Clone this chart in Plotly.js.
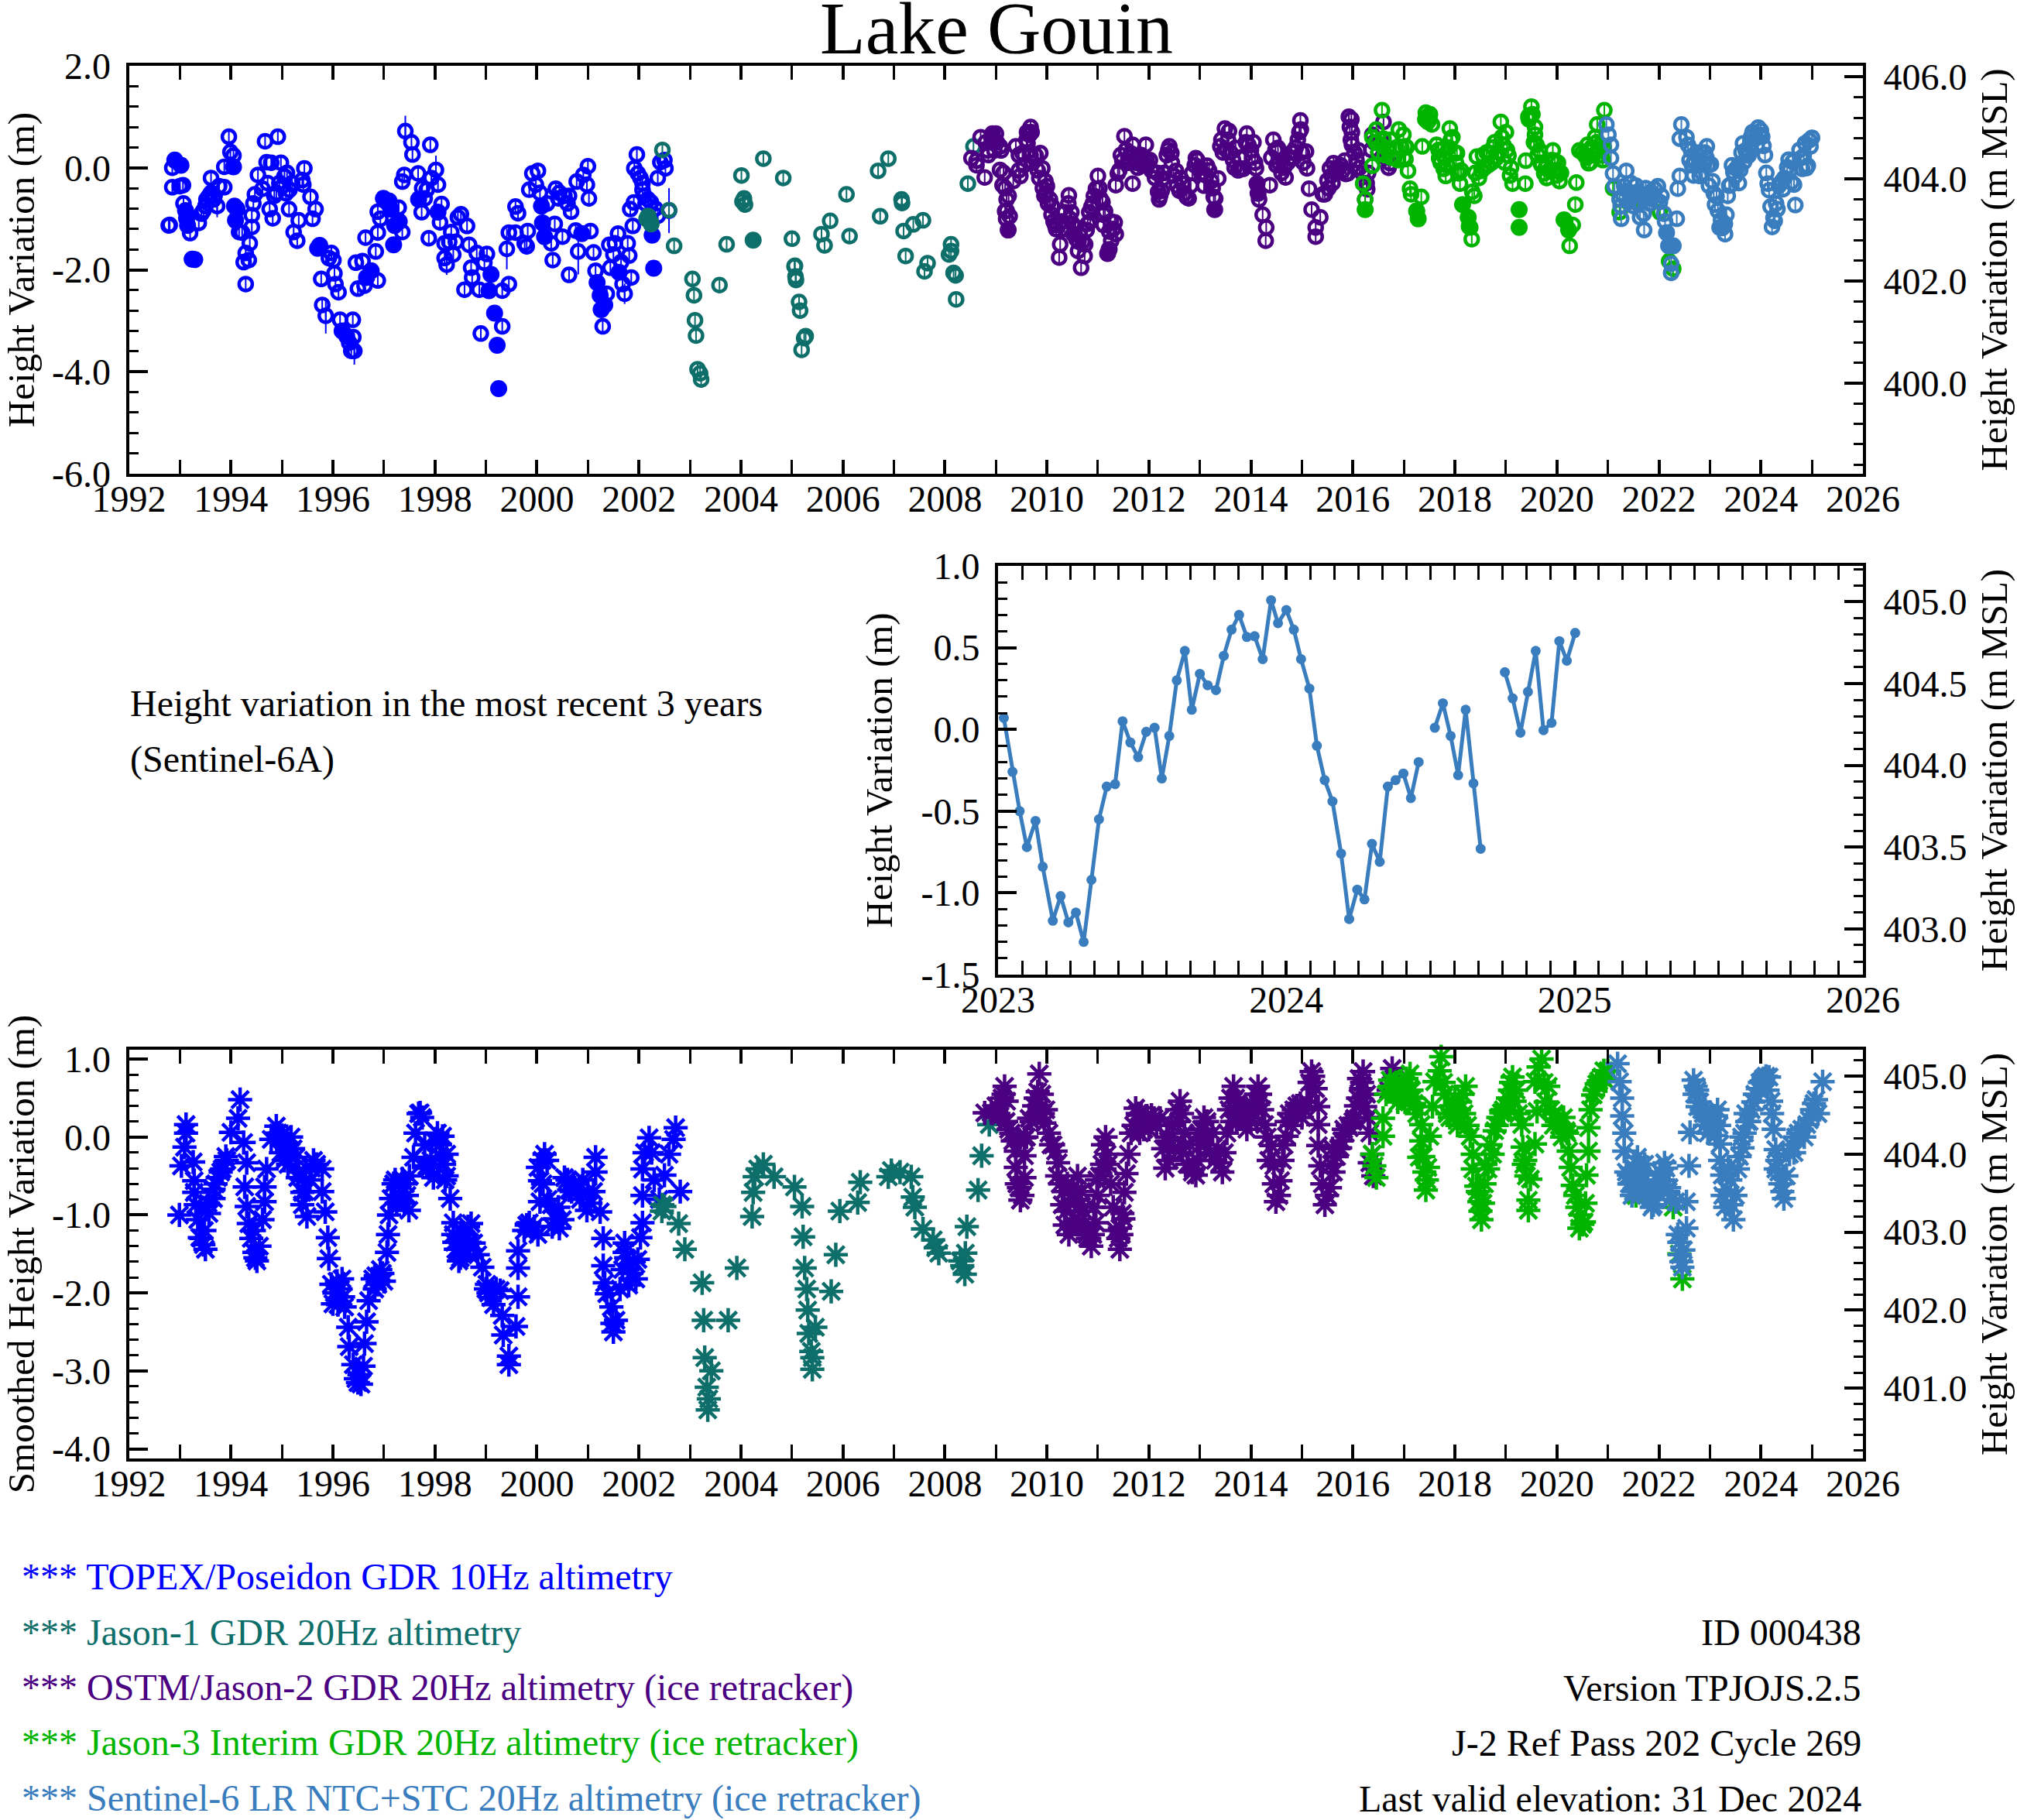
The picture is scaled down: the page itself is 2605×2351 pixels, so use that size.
<!DOCTYPE html>
<html>
<head>
<meta charset="utf-8">
<script src="https://cdn.plot.ly/plotly-3.0.1.min.js"></script>
<style>body{margin:0;background:#fff}</style>
</head>
<body>
<div id="chart" style="width:2605px;height:2351px"></div>
<script>
var blue = 'rgb(0,0,255)', teal = 'rgb(13,110,106)', purple = 'rgb(75,0,130)', green = 'rgb(0,180,0)', steel = 'rgb(58,125,190)';

// top panel: 10 day heights, open circles
var topexX = [1992.78,1992.80,1992.85,1992.85,1993.0,1993.06,1993.07,1993.2,1993.37,1993.46,1993.5,1993.57,1993.61,1993.61,1993.66,1993.73,1993.77,1993.87,1993.87,1993.96,1993.99,1994.05,1994.16,1994.22,1994.29,1994.25,1994.35,1994.29,1994.37,1994.41,1994.41,1994.44,1994.47,1994.53,1994.62,1994.67,1994.70,1994.76,1994.82,1994.79,1994.92,1994.89,1994.98,1995.05,1995.14,1995.1,1995.15,1995.23,1995.3,1995.33,1995.4,1995.44,1995.42,1995.56,1995.6,1995.66,1995.79,1995.77,1995.86,1995.97,1995.92,1996.01,1996.03,1996.05,1996.11,1996.14,1996.32,1996.36,1996.39,1996.4,1996.42,1996.49,1996.45,1996.58,1996.62,1996.64,1996.84,1996.88,1996.88,1996.88,1996.93,1997.29,1997.36,1997.36,1997.4,1997.42,1997.54,1997.56,1997.67,1997.74,1997.88,1997.91,1997.84,1997.93,1998.02,1998.06,1998.13,1998.1,1998.19,1998.19,1998.23,1998.32,1998.36,1998.41,1998.45,1998.51,1998.58,1998.63,1998.67,1998.71,1998.73,1998.82,1998.87,1998.9,1999.02,1998.97,1999.32,1999.32,1999.45,1999.41,1999.45,1999.58,1999.63,1999.58,1999.76,1999.8,1999.82,1999.85,1999.91,2000.02,1999.98,2000.06,2000.28,2000.31,2000.35,2000.37,2000.44,2000.5,2000.54,2000.63,2000.63,2000.67,2000.76,2000.78,2000.81,2000.91,2000.98,2001.0,2001.02,2001.05,2001.11,2001.15,2001.29,2001.37,2001.42,2001.44,2001.53,2001.59,2001.68,2001.72,2001.78,2001.81,2001.85,2001.83,2001.88,2001.9,2001.91,2001.96,2001.98,2002.03,2002.07,2002.07,2002.11,2002.24,2002.37,2002.37,2002.42,2002.5,2002.52,2002.59];
var topexY = [-1.13,-1.12,0.0,-0.38,-0.36,-0.34,-0.70,-1.28,-1.08,-0.84,-0.75,-0.55,-0.49,-0.2,-0.62,-0.75,-0.36,-0.38,0.02,0.61,0.31,0.24,-1.26,-1.27,-1.67,-1.85,-1.81,-2.28,-1.48,-1.16,-0.93,-0.70,-0.52,-0.14,-0.41,0.52,0.11,-0.81,-0.99,0.1,0.61,-0.49,0.10,-0.17,-0.81,-0.1,-0.43,-1.26,-1.43,-1.03,-0.24,-0.01,-0.33,-0.57,-1.0,-0.81,-2.69,-2.18,-2.9,-1.67,-1.77,-1.81,-2.07,-2.28,-2.44,-2.98,-3.43,-3.59,-2.98,-3.32,-3.59,-2.37,-1.86,-1.83,-2.31,-1.37,-1.64,-2.21,-1.27,-0.86,-1.0,-0.78,-1.26,-0.27,-0.14,0.72,0.5,0.26,-0.11,-0.87,-1.38,0.45,-0.43,-0.2,-0.04,-0.33,-0.71,-1.07,-1.48,-1.77,-1.9,-1.26,-1.7,-1.45,-0.97,-0.91,-2.39,-1.14,-1.51,-1.96,-2.15,-1.67,-2.39,-3.25,-1.69,-1.86,-3.11,-2.41,-2.28,-1.59,-1.27,-0.76,-0.89,-1.27,-1.48,-1.54,-1.24,-0.43,-0.11,-0.06,-0.33,-0.49,-1.48,-1.81,-1.1,-0.41,-0.49,-1.35,-0.55,-0.55,-2.1,-0.86,-1.23,-0.27,-1.64,-0.14,-0.33,0.03,-0.6,-1.24,-1.66,-2.02,-3.11,-2.47,-1.51,-1.96,-1.48,-1.29,-2.28,-2.47,-1.48,-1.72,-2.15,-0.81,-1.14,-0.68,-0.01,0.26,-0.11,-0.2,-0.3,-0.43,-0.55,-0.68,-0.94,-0.2,0.11,0.15,-0.01,-0.84];
var jason1X = [2002.15,2002.22,2002.46,2002.59,2002.69,2003.05,2003.08,2003.1,2003.12,2003.15,2003.2,2003.22,2003.58,2003.72,2004.01,2004.44,2004.83,2004.06,2004.08,2004.03,2005.0,2005.05,2005.07,2005.06,2005.08,2005.14,2005.16,2005.24,2005.19,2005.27,2005.58,2005.64,2005.75,2006.13,2006.07,2006.69,2006.89,2006.73,2007.15,2007.16,2007.19,2007.38,2007.57,2007.23,2007.66,2007.6,2008.12,2008.12,2008.08,2008.17,2008.21,2008.22,2008.45,2008.56];
var jason1Y = [-1.0,-1.05,0.35,-0.83,-1.53,-2.18,-2.5,-2.99,-3.29,-3.95,-4.03,-4.15,-2.3,-1.5,-0.15,0.18,-0.2,-0.6,-0.72,-0.66,-1.39,-1.93,-2.13,-1.92,-2.2,-2.63,-2.8,-3.34,-3.57,-3.3,-1.3,-1.52,-1.04,-1.34,-0.52,-0.06,0.18,-0.95,-0.62,-0.69,-1.24,-1.11,-1.03,-1.73,-1.87,-2.03,-1.5,-1.63,-1.7,-2.06,-2.11,-2.58,-0.31,0.42];
var ostmX = [2008.52,2008.62,2008.78,2009.0,2009.08,2009.08,2009.13,2009.21,2009.21,2008.85,2009.34,2009.39,2009.48,2009.52,2009.61,2009.68,2009.65,2009.78,2009.87,2009.91,2009.97,2010.0,2010.06,2010.09,2010.16,2010.26,2010.24,2010.35,2010.43,2010.48,2010.56,2010.61,2010.65,2010.67,2010.74,2010.78,2010.83,2010.87,2010.96,2011.0,2011.09,2011.11,2011.11,2011.26,2011.33,2011.35,2011.39,2011.52,2011.48,2011.68,2011.68,2011.94,2011.6,2011.75,2011.85,2011.96,2012.18,2012.2,2012.27,2012.4,2012.44,2012.53,2012.66,2012.74,2012.92,2013.14,2013.22,2013.27,2013.36,2013.4,2013.49,2013.57,2013.7,2013.79,2013.92,2014.05,2014.1,2014.16,2014.23,2014.3,2014.29,2014.37,2014.44,2014.53,2014.68,2014.84,2014.97,2014.98,2015.08,2015.1,2015.14,2015.19,2015.27,2015.27,2015.36,2015.41,2015.45,2015.55,2015.62,2015.72,2015.84,2015.9,2015.92,2015.97,2015.98,2015.98,2016.11,2016.19,2016.24,2016.28,2016.38,2016.6,2016.73];
var ostmY = [0.19,0.05,-0.19,0.67,0.42,-0.04,-0.34,-0.62,-0.84,0.25,-0.26,0.42,-0.16,0.29,0.7,0.8,0.65,0.24,0.29,-0.01,-0.26,-0.36,-0.62,-0.92,-1.12,-1.5,-1.76,-0.87,-0.54,-0.87,-1.17,-1.63,-1.33,-1.96,-1.73,-1.22,-0.87,-0.77,-0.41,-0.16,-0.67,-0.92,-1.12,-1.43,-1.07,-0.34,-0.11,0.62,0.14,0.45,-0.31,0.45,0.2,0.1,0.25,0.04,-0.47,-0.62,-0.21,0.42,0.29,-0.06,-0.31,-0.57,0.19,0.04,-0.26,-0.57,-0.21,0.42,0.77,0.72,0.39,-0.01,0.67,0.5,-0.01,-0.62,-0.92,-1.17,-1.43,-0.34,0.55,0.39,-0.19,0.19,0.93,0.75,0.32,-0.01,-0.41,-0.82,-1.17,-1.35,-0.97,-0.52,-0.52,-0.01,0.09,-0.01,0.14,-0.11,1.0,0.95,0.7,0.45,0.34,-0.11,-0.62,-0.42,0.65,0.9,0.09];
var jason3X = [2016.24,2016.2,2016.38,2016.38,2016.57,2016.46,2016.6,2016.73,2016.9,2016.99,2016.81,2017.03,2017.03,2017.08,2017.12,2017.14,2017.34,2017.25,2017.36,2017.43,2017.51,2017.47,2017.64,2017.9,2017.95,2017.69,2017.82,2018.04,2018.08,2018.1,2018.3,2018.33,2018.34,2018.43,2018.52,2018.69,2018.78,2018.9,2019.0,2019.05,2019.13,2019.38,2019.39,2019.46,2019.5,2019.44,2019.57,2019.57,2019.66,2019.75,2019.92,2019.96,2020.05,2020.03,2020.25,2020.31,2020.36,2020.38,2020.44,2020.62,2020.75,2020.79,2020.93,2020.88,2020.6,2020.55,2020.7,2021.1,2021.23,2021.23,2021.55,2022.02,2022.2,2022.28];
var jason3Y = [-0.62,-0.31,0.04,0.6,1.13,0.75,0.57,0.55,0.75,0.65,0.19,0.42,0.17,-0.06,-0.41,-0.52,-0.57,-0.84,0.42,1.08,1.05,0.9,0.45,0.77,0.6,0.19,-0.16,0.29,-0.11,-0.31,-1.17,-1.4,-0.47,0.22,-0.06,0.29,0.5,0.9,0.7,0.24,-0.31,-0.31,0.14,1.03,1.2,1.0,0.65,0.8,0.34,-0.11,0.34,0.14,-0.26,-0.06,-1.53,-1.12,-0.72,-0.29,0.34,0.09,0.6,0.85,1.13,0.24,0.45,0.25,0.35,-0.4,-0.62,-0.87,-0.6,-0.87,-1.83,-1.98];
var s6EarlyX = [2020.97,2021.01,2021.06,2021.06,2021.1,2021.13,2021.23,2021.26,2021.36,2021.32,2021.41,2021.58,2021.63,2021.71,2021.54,2021.84,2021.98,2022.02,2022.24,2022.24,2022.35,2022.37,2022.41,2022.44,2022.41,2022.54,2022.63,2022.76,2022.94,2022.89,2022.8];
var s6EarlyY = [0.85,0.65,0.45,0.19,-0.11,-0.36,-0.62,-1.0,-0.06,-0.36,-0.67,-0.47,-0.97,-1.22,-0.67,-0.47,-0.36,-0.67,-1.88,-2.06,-1.0,-0.41,-0.16,0.85,0.57,0.6,0.34,0.24,0.42,0.09,-0.16];

// more readings from the crowded parts of the top panel, [year, height]
var topexMore = [[1993.42,-0.9],[1993.52,-0.62],[1993.68,-0.55],[1994.72,-0.3],[1994.85,-0.55],[1994.95,-0.3],[1995.02,-0.35],[1995.08,-0.5],[1995.2,-0.3],[1997.75,-0.4],[1997.8,-0.6],[1998.28,-1.45],[2000.2,-0.7],[2000.42,-0.6],[2000.6,-0.7],[2001.5,-1.7],[2001.65,-1.85],[2002.13,-0.7],[2002.18,-0.62],[2002.32,-0.8]];
var ostmMore = [[2008.7,0.6],[2008.8,0.5],[2008.93,0.67],[2009.02,0.5],[2009.1,0.34],[2008.97,0.34],[2008.84,0.34],[2008.62,0.14],[2009.15,-0.1],[2009.18,-0.4],[2009.25,-0.55],[2009.18,-0.85],[2009.27,-0.95],[2009.2,-1.0],[2009.45,0.25],[2009.6,0.55],[2009.66,0.65],[2009.7,0.7],[2009.62,0.48],[2009.55,0.05],[2009.45,-0.05],[2009.68,0.25],[2009.72,0.1],[2009.82,-0.05],[2009.85,-0.2],[2009.92,-0.4],[2009.95,-0.55],[2009.98,-0.5],[2010.02,-0.7],[2010.1,-0.75],[2010.13,-1.05],[2010.18,-1.2],[2010.3,-1.05],[2010.35,-1.2],[2010.42,-0.7],[2010.45,-1.0],[2010.5,-1.1],[2010.52,-1.3],[2010.58,-1.4],[2010.62,-1.45],[2010.7,-1.45],[2010.75,-1.5],[2010.8,-1.1],[2010.85,-1.05],[2010.9,-0.7],[2010.92,-0.55],[2011.03,-0.4],[2011.05,-0.6],[2011.14,-0.85],[2011.22,-1.25],[2011.3,-1.2],[2011.35,-1.3],[2011.25,-1.05],[2011.42,-0.05],[2011.45,0.25],[2011.55,0.35],[2011.6,0.1],[2011.65,0.28],[2011.72,0.15],[2011.78,0.0],[2011.82,0.2],[2011.88,0.05],[2011.95,0.15],[2012.02,0.15],[2012.05,-0.05],[2012.12,-0.2],[2012.16,-0.1],[2012.22,-0.55],[2012.25,-0.45],[2012.3,-0.1],[2012.35,0.25],[2012.38,0.35],[2012.45,0.1],[2012.48,-0.15],[2012.55,-0.35],[2012.6,-0.45],[2012.62,-0.2],[2012.7,-0.5],[2012.78,-0.6],[2012.82,-0.35],[2012.85,-0.1],[2012.9,0.05],[2012.95,0.15],[2013.0,0.0],[2013.02,-0.1],[2013.08,-0.35],[2013.12,-0.15],[2013.18,-0.05],[2013.25,-0.4],[2013.3,-0.6],[2013.42,0.55],[2013.45,0.3],[2013.52,0.35],[2013.55,0.55],[2013.6,0.3],[2013.65,0.15],[2013.68,0.0],[2013.75,-0.05],[2013.78,0.2],[2013.85,-0.02],[2013.9,0.5],[2013.95,0.45],[2014.0,0.35],[2014.02,0.2],[2014.08,0.1],[2014.4,0.2],[2014.48,0.35],[2014.5,0.05],[2014.55,0.1],[2014.6,-0.1],[2014.65,0.0],[2014.72,0.1],[2014.76,0.2],[2014.8,0.3],[2014.88,0.4],[2014.92,0.55],[2014.95,0.7],[2015.0,0.3],[2015.03,0.1],[2015.5,-0.25],[2015.52,-0.4],[2015.58,-0.15],[2015.6,-0.3],[2015.66,-0.1],[2015.7,0.0],[2015.76,0.05],[2015.8,-0.05],[2015.86,-0.12],[2015.94,0.8],[2015.96,0.55],[2016.03,0.3],[2016.07,0.15],[2016.13,0.0],[2016.27,-0.3],[2016.3,-0.1],[2016.36,0.35],[2016.42,0.5],[2016.5,0.3],[2016.55,0.55],[2016.65,0.2],[2016.7,0.0]];
var jason3More = [[2016.45,0.5],[2016.5,0.3],[2016.55,0.45],[2016.62,0.25],[2016.68,0.35],[2016.75,0.2],[2016.85,0.4],[2016.88,0.15],[2016.95,0.4],[2017.0,0.2],[2017.05,0.4],[2017.45,1.0],[2017.55,0.85],[2017.5,0.95],[2017.42,0.95],[2017.68,0.35],[2017.72,0.1],[2017.75,0.35],[2017.78,-0.02],[2017.8,0.2],[2017.85,0.05],[2017.88,0.4],[2017.92,0.55],[2018.0,0.3],[2018.02,0.1],[2018.05,-0.08],[2018.12,-0.05],[2018.38,-0.55],[2018.4,-0.1],[2018.47,-0.2],[2018.55,0.25],[2018.58,0.0],[2018.62,0.3],[2018.65,0.05],[2018.72,0.1],[2018.75,0.4],[2018.82,0.2],[2018.85,0.3],[2018.92,0.6],[2018.95,0.45],[2018.98,0.1],[2019.02,0.35],[2019.08,-0.15],[2019.1,0.0],[2019.45,0.95],[2019.52,1.05],[2019.55,0.5],[2019.6,0.45],[2019.62,0.25],[2019.68,0.1],[2019.7,0.05],[2019.78,0.0],[2019.8,-0.2],[2019.85,-0.05],[2019.9,0.15],[2019.95,-0.05],[2020.0,-0.15],[2020.02,0.1],[2020.08,-0.1],[2020.5,0.3],[2020.58,0.2],[2020.65,0.1],[2020.68,0.4],[2020.72,0.25],[2020.78,0.5],[2020.82,0.35],[2020.86,0.45],[2020.9,0.15],[2020.92,0.4]];
var s6More = [[2021.25,-0.75],[2021.3,-0.55],[2021.38,-0.45],[2021.45,-0.3],[2021.48,-0.55],[2021.5,-0.75],[2021.55,-0.35],[2021.6,-0.7],[2021.66,-0.55],[2021.7,-0.9],[2021.74,-0.4],[2021.78,-0.6],[2021.82,-0.7],[2021.86,-0.55],[2021.92,-0.42],[2021.95,-0.65],[2022.05,-0.55],[2022.1,-0.9],[2022.12,-1.05],[2022.57,0.45],[2022.6,0.15],[2022.65,0.05],[2022.68,-0.15],[2022.7,0.15],[2022.73,0.3],[2022.78,0.05],[2022.82,0.3],[2022.85,-0.1],[2022.9,0.3],[2022.93,0.2],[2022.96,0.05],[2022.98,-0.35]];

// top panel: filled circles
var topexFilledX = [1992.90,1993.02,1993.11,1993.13,1993.15,1993.24,1993.29,1994.05,1994.07,1994.12,1994.09,1995.7,1995.74,1996.18,1996.27,1996.75,1996.66,1996.99,1997.1,1997.14,1997.19,1997.21,1997.3,1997.68,1998.06,1999.1,1999.06,1999.17,1999.22,1999.25,2000.09,2000.11,2000.15,2000.88,2001.18,2001.24,2001.26,2001.33,2001.61,2002.26,2002.29];
var topexFilledY = [0.15,0.05,-0.84,-0.99,-1.13,-1.79,-1.80,0.02,-0.75,-0.81,-1.03,-1.58,-1.52,-3.2,-3.3,-2.02,-2.15,-0.6,-0.65,-0.81,-1.51,-1.13,-1.05,-0.62,-0.87,-2.09,-2.41,-2.85,-3.48,-4.33,-0.75,-1.08,-1.35,-1.29,-2.25,-2.5,-2.78,-2.69,-2.05,-1.32,-1.97];
var jason1FilledX = [2002.18,2002.24,2004.24];
var jason1FilledY = [-0.95,-1.1,-1.42];
var ostmFilledX = [2008.91,2008.95,2009.24,2011.19,2011.22,2013.29,2014.12,2014.14];
var ostmFilledY = [0.6,0.5,-1.22,-1.68,-1.6,-0.82,-0.31,-0.5];
var jason3FilledX = [2016.24,2017.28,2017.25,2018.15,2018.26,2018.28,2019.26,2019.26,2020.14,2020.23];
var jason3FilledY = [-0.82,-1.0,-0.85,-0.72,-0.97,-1.15,-0.82,-1.17,-1.02,-1.22];
var s6FilledX = [2022.15,2022.19,2022.28,2023.29];
var s6FilledY = [-1.27,-1.53,-1.53,-1.1];

// top panel: longer error bars
var whiskerX = [1997.42,1996.42,1995.86,2000.81,1999.41,2002.59,2001.72,1998.23,1998.02,1993.73];
var whiskerY = [0.72,-3.59,-2.9,-1.64,-1.59,-0.84,-2.47,-1.9,-0.04,-0.75];
var whiskerErr = [0.3,0.27,0.35,0.45,0.4,0.44,0.2,0.2,0.28,0.22];

// middle panel: Sentinel-6A, nulls are the gaps in the line
var recentYear = [2023.02,2023.05,2023.075,2023.10,2023.13,2023.155,2023.19,2023.217,2023.244,2023.27,2023.297,2023.324,2023.35,2023.377,2023.406,2023.432,2023.459,2023.486,2023.514,2023.543,2023.568,2023.594,2023.62,2023.648,2023.672,2023.70,2023.727,2023.756,2023.783,2023.81,2023.836,2023.863,2023.89,2023.918,2023.947,2023.971,2024.0,2024.026,2024.051,2024.08,2024.106,2024.133,2024.16,2024.19,2024.218,2024.246,2024.271,2024.297,2024.324,2024.352,2024.379,2024.406,2024.432,2024.459,null,2024.515,2024.543,2024.57,2024.596,2024.622,2024.649,2024.674,null,2024.758,2024.785,2024.812,2024.838,2024.865,2024.892,2024.92,2024.947,2024.973,2025.002];
var recentHeight = [0.07,-0.26,-0.5,-0.72,-0.56,-0.84,-1.17,-1.02,-1.18,-1.12,-1.30,-0.92,-0.55,-0.35,-0.335,0.05,-0.08,-0.17,-0.015,0.01,-0.30,-0.04,0.30,0.48,0.12,0.34,0.27,0.24,0.45,0.61,0.70,0.565,0.57,0.43,0.79,0.65,0.73,0.61,0.43,0.25,-0.10,-0.31,-0.44,-0.76,-1.16,-0.98,-1.04,-0.70,-0.81,-0.35,-0.31,-0.27,-0.42,-0.20,null,0.01,0.16,-0.04,-0.28,0.12,-0.33,-0.73,null,0.35,0.19,-0.02,0.23,0.48,-0.005,0.04,0.54,0.42,0.59];

// bottom panel: smoothed heights
var smoothTopexX = [1992.99,1993.12,1993.12,1993.09,1993.03,1993.26,1993.28,1993.28,1993.31,1993.35,1993.39,1993.46,1993.5,1993.57,1993.66,1993.74,1993.66,1993.83,1993.92,1994.0,1994.14,1994.18,1994.25,1994.31,1994.27,1994.31,1994.35,1994.4,1994.46,1994.51,1994.62,1994.66,1994.66,1994.7,1994.79,1994.89,1994.92,1995.05,1995.05,1995.18,1995.27,1995.31,1995.4,1995.4,1995.49,1995.62,1995.79,1995.79,1995.85,1995.9,1995.92,1995.97,1996.0,1996.18,1996.23,1996.3,1996.32,1996.4,1996.49,1996.55,1996.6,1996.62,1996.66,1996.7,1996.78,1996.88,1996.93,1997.06,1997.08,1997.1,1997.14,1997.19,1997.36,1997.45,1997.49,1997.58,1997.62,1997.71,1997.75,1997.84,1997.97,1998.02,1998.15,1998.23,1998.23,1998.3,1998.36,1998.36,1998.41,1998.47,1998.71,1998.76,1998.84,1998.93,1999.02,1999.1,1999.28,1999.32,1999.34,1999.45,1999.45,1999.59,1999.63,1999.63,1999.63,1999.8,2000.02,2000.06,2000.06,2000.02,2000.15,2000.28,2000.44,2000.5,2000.54,2000.63,2000.8,2000.98,2001.11,2001.15,2001.15,2001.24,2001.3,2001.3,2001.33,2001.37,2001.46,2001.48,2001.5,2001.63,2001.68,2001.72,2001.72,2001.94,2001.98,2002.03,2002.07,2002.07,2002.07,2002.11,2002.2,2002.5,2002.59,2002.68,2002.72,2002.81];
var smoothTopexY = [-1.0,0.16,0.05,-0.13,-0.37,-0.32,-0.56,-0.71,-0.87,-1.06,-1.29,-1.38,-1.44,-0.98,-0.79,-0.52,-0.67,-0.41,-0.3,0.06,0.24,0.48,-0.07,-0.33,-0.64,-0.89,-1.11,-1.3,-1.48,-1.59,-1.06,-0.83,-0.64,-0.41,-0.03,0.14,0.05,-0.3,-0.07,0.0,-0.26,-0.52,-0.71,-0.87,-1.02,-0.3,-0.41,-0.7,-0.96,-1.29,-1.56,-1.89,-2.14,-1.82,-2.18,-2.44,-2.69,-2.92,-3.15,-3.17,-2.94,-2.65,-2.37,-2.1,-1.82,-1.89,-1.7,-1.48,-1.25,-1.0,-0.79,-0.6,-0.54,-0.75,-0.94,-0.26,0.05,0.31,0.25,-0.37,-0.52,-0.07,0.01,-0.22,-0.5,-0.79,-1.1,-1.25,-1.44,-1.59,-1.11,-1.36,-1.51,-1.67,-1.89,-2.06,-1.97,-2.29,-2.54,-2.81,-2.92,-2.43,-2.05,-1.68,-1.46,-1.13,-1.25,-0.83,-0.56,-0.39,-0.22,-0.87,-1.17,-1.06,-0.52,-0.68,-0.68,-0.94,-0.7,-0.45,-0.26,-0.96,-1.3,-1.65,-1.87,-2.01,-2.18,-2.39,-2.5,-1.95,-1.7,-1.48,-1.36,-1.82,-1.57,-1.29,-1.1,-0.75,-0.41,-0.2,-0.01,-0.49,-0.22,-0.03,0.12,-0.7];
var smoothJason1X = [2002.46,2002.5,2002.45,2002.78,2002.9,2003.24,2003.27,2003.29,2003.42,2003.33,2003.37,2003.35,2003.75,2003.92,2004.22,2004.24,2004.27,2004.33,2004.44,2004.65,2005.05,2005.2,2005.22,2005.25,2005.29,2005.31,2005.33,2005.46,2005.38,2005.4,2005.4,2005.77,2005.86,2005.94,2006.29,2006.34,2006.89,2006.95,2007.12,2007.34,2007.37,2007.41,2007.57,2007.77,2007.82,2007.88,2008.3,2008.34,2008.39,2008.4,2008.43,2008.65,2008.72,2008.87];
var smoothJason1Y = [-0.87,-0.89,-0.95,-1.11,-1.44,-1.87,-2.35,-2.83,-3.0,-3.21,-3.36,-3.5,-2.35,-1.68,-1.02,-0.71,-0.51,-0.41,-0.35,-0.51,-0.64,-0.89,-1.28,-1.68,-1.95,-2.22,-2.52,-2.44,-2.75,-2.83,-2.98,-1.98,-1.51,-0.95,-0.84,-0.58,-0.51,-0.43,-0.45,-0.51,-0.77,-0.9,-1.18,-1.32,-1.42,-1.49,-1.59,-1.65,-1.76,-1.49,-1.15,-0.68,-0.24,0.16];
var smoothOstmX = [2008.78,2008.91,2009.08,2009.17,2009.21,2009.3,2009.39,2009.39,2009.41,2009.48,2009.56,2009.56,2009.56,2009.65,2009.82,2009.85,2009.87,2009.95,2010.04,2010.17,2010.22,2010.26,2010.3,2010.35,2010.43,2010.52,2010.58,2010.65,2010.7,2010.8,2010.87,2010.96,2011.0,2011.13,2011.18,2011.43,2011.43,2011.48,2011.52,2011.56,2011.6,2011.65,2011.74,2011.85,2011.96,2012.1,2012.22,2012.4,2012.35,2012.5,2012.61,2012.7,2012.87,2012.92,2013.0,2013.14,2013.25,2013.4,2013.44,2013.53,2013.66,2013.7,2013.85,2013.96,2014.14,2014.14,2014.27,2014.4,2014.45,2014.45,2014.49,2014.58,2014.62,2014.7,2014.84,2014.97,2015.19,2015.27,2015.32,2015.32,2015.32,2015.36,2015.4,2015.45,2015.49,2015.62,2015.75,2015.93,2016.03,2016.16,2016.2,2016.24,2016.33,2016.38,2016.33,2016.4,2016.77];
var smoothOstmY = [0.31,0.31,0.27,0.65,0.46,0.05,-0.18,-0.39,-0.6,-0.81,-0.52,-0.24,-0.01,0.24,0.58,0.81,0.31,0.18,0.05,-0.18,-0.33,-0.6,-0.87,-1.13,-1.25,-0.64,-0.8,-0.87,-1.13,-1.3,-1.4,-1.1,-0.75,-0.41,-0.22,-1.17,-1.44,-0.98,-0.71,-0.47,-0.22,0.05,0.37,0.28,0.27,0.24,0.24,-0.3,0.0,-0.14,0.46,0.05,-0.41,-0.49,-0.1,0.2,0.05,-0.33,-0.45,0.05,0.65,0.5,0.35,0.24,0.65,0.42,0.16,-0.11,-0.37,-0.6,-0.83,-0.56,-0.3,0.01,0.35,0.43,0.84,0.62,0.39,0.16,-0.11,-0.37,-0.6,-0.87,-0.75,-0.45,-0.14,0.12,0.24,0.62,0.84,0.39,0.05,-0.22,-0.33,-0.5,0.88];
var smoothJason3X = [2016.46,2016.42,2016.38,2016.59,2016.59,2016.65,2016.73,2016.85,2016.95,2017.12,2017.2,2017.34,2017.34,2017.3,2017.51,2017.47,2017.43,2017.56,2017.6,2017.73,2017.65,2017.78,2018.0,2018.08,2018.21,2018.08,2018.3,2018.35,2018.35,2018.42,2018.48,2018.52,2018.65,2018.74,2018.78,2018.91,2019.04,2019.13,2019.17,2019.31,2019.33,2019.35,2019.48,2019.44,2019.44,2019.57,2019.61,2019.57,2019.66,2019.7,2019.83,2020.0,2020.18,2020.23,2020.27,2020.31,2020.4,2020.44,2020.53,2020.58,2020.62,2020.62,2020.66,2020.71,2020.88,2021.0,2021.55,2021.8,2022.28,2022.4,2022.46];
var smoothJason3Y = [-0.52,-0.37,-0.22,0.01,0.24,0.55,0.73,0.7,0.72,0.81,0.43,0.16,-0.05,-0.26,0.01,-0.39,-0.68,0.39,0.71,1.03,1.15,0.7,0.5,0.24,0.65,0.35,0.01,-0.22,-0.41,-0.63,-0.83,-1.06,-0.41,-0.22,0.08,0.31,0.5,0.77,0.46,0.16,-0.13,-0.35,-0.54,-0.81,-0.94,-0.09,0.33,0.71,1.15,1.0,0.65,0.2,0.08,-0.18,-0.39,-0.62,-0.9,-1.17,-1.09,-0.49,-0.18,0.12,0.35,0.54,0.77,0.85,-0.75,-0.7,-0.9,-1.5,-1.82];
var smoothS6X = [2021.19,2021.23,2021.28,2021.28,2021.32,2021.32,2021.41,2021.45,2021.5,2021.58,2021.67,2021.75,2021.89,2021.95,2022.05,2022.11,2022.11,2022.2,2022.33,2022.37,2022.41,2022.46,2022.54,2022.54,2022.59,2022.61,2022.68,2022.72,2022.76,2022.87,2022.98,2023.05,2023.15,2023.2,2023.2,2023.24,2023.33,2023.42,2023.46,2023.55,2023.64,2023.73,2023.81,2023.94,2024.05,2024.16,2024.2,2024.25,2024.29,2024.29,2024.38,2024.45,2024.56,2024.73,2024.9,2025.04,2025.21];
var smoothS6Y = [0.94,0.71,0.5,0.27,0.05,-0.18,-0.49,-0.6,-0.7,-0.26,-0.49,-0.7,-0.87,-0.7,-0.55,-0.33,-0.56,-0.65,-0.83,-1.25,-1.51,-1.67,-1.17,-0.83,-0.37,0.06,0.73,0.65,0.39,0.3,0.24,0.15,0.35,-0.09,-0.3,-0.49,-0.68,-0.87,-1.06,-0.41,-0.14,0.2,0.35,0.62,0.75,0.77,0.46,0.1,-0.16,-0.41,-0.6,-0.79,-0.22,0.05,0.16,0.43,0.71];

// more readings from the crowded parts of the bottom panel, [year, height]
var smoothTopexMore = [[1993.42,-1.3],[1993.48,-1.2],[1993.55,-0.85],[1993.7,-0.6],[1993.8,-0.45],[1993.9,-0.25],[1994.45,-1.2],[1994.48,-1.55],[1994.56,-1.4],[1994.95,0.0],[1994.98,-0.2],[1995.0,0.02],[1995.1,-0.18],[1995.12,-0.35],[1995.22,-0.15],[1995.33,-0.45],[1995.45,-0.7],[1995.55,-0.55],[1995.58,-0.4],[1995.68,-0.35],[1996.03,-2.0],[1996.1,-2.15],[1996.15,-1.95],[1996.08,-1.85],[1996.2,-2.05],[1996.45,-3.1],[1996.52,-3.05],[1996.82,-1.95],[1996.84,-1.78],[1996.97,-1.75],[1997.0,-1.85],[1997.22,-0.55],[1997.25,-0.85],[1997.3,-0.75],[1997.4,-0.85],[1997.42,-0.6],[1997.5,-0.5],[1997.68,0.3],[1997.8,-0.1],[1997.88,-0.4],[1997.92,-0.3],[1998.05,0.05],[1998.1,-0.1],[1998.1,-0.25],[1998.18,-0.35],[1998.2,-0.55],[1998.38,-1.35],[1998.5,-1.55],[1998.55,-1.25],[1998.6,-1.3],[1998.62,-1.45],[1998.65,-1.15],[1998.68,-1.35],[1999.0,-1.95],[1999.05,-2.0],[1999.15,-2.15],[1999.2,-1.95],[1999.75,-1.2],[1999.85,-1.1],[1999.9,-1.2],[1999.95,-1.15],[2000.1,-0.3],[2000.12,-0.6],[2000.2,-0.3],[2000.22,-0.8],[2000.3,-1.15],[2000.35,-1.05],[2000.42,-0.9],[2000.6,-0.55],[2000.68,-0.7],[2000.72,-0.6],[2000.85,-0.8],[2000.9,-0.55],[2001.0,-0.7],[2001.05,-0.85],[2001.55,-2.35],[2001.75,-1.55],[2001.8,-1.9],[2001.85,-1.75],[2001.9,-1.6],[2002.25,-0.2],[2002.3,-0.55],[2002.4,-0.8]];
var smoothOstmMore = [[2009.0,0.4],[2009.05,0.3],[2009.12,0.5],[2009.15,0.55],[2009.2,0.2],[2009.25,0.1],[2009.33,-0.05],[2009.45,-0.65],[2009.52,-0.75],[2009.6,0.0],[2009.7,0.2],[2009.75,0.4],[2009.78,0.5],[2009.9,0.55],[2009.92,0.3],[2009.98,0.35],[2010.08,-0.1],[2010.12,-0.1],[2010.2,-0.5],[2010.33,-0.7],[2010.38,-0.95],[2010.4,-0.6],[2010.45,-0.85],[2010.48,-1.1],[2010.55,-1.05],[2010.6,-0.5],[2010.62,-1.1],[2010.68,-0.7],[2010.72,-0.95],[2010.78,-1.25],[2010.83,-1.3],[2010.9,-1.25],[2010.92,-0.9],[2010.98,-0.55],[2011.03,-0.5],[2011.08,-0.35],[2011.1,-0.1],[2011.15,0.0],[2011.2,-0.35],[2011.25,-0.6],[2011.3,-0.9],[2011.35,-1.2],[2011.4,-1.3],[2011.46,-1.25],[2011.5,-1.05],[2011.7,0.15],[2011.78,0.3],[2011.82,0.05],[2011.9,0.1],[2012.0,0.1],[2012.05,0.28],[2012.15,0.15],[2012.28,-0.15],[2012.32,-0.4],[2012.38,-0.05],[2012.45,0.15],[2012.55,0.35],[2012.58,0.2],[2012.65,0.3],[2012.66,-0.2],[2012.75,-0.35],[2012.8,-0.1],[2012.85,-0.45],[2012.95,-0.3],[2012.98,0.05],[2013.03,0.1],[2013.08,0.25],[2013.1,-0.1],[2013.2,-0.2],[2013.3,-0.3],[2013.35,-0.15],[2013.48,-0.2],[2013.57,0.35],[2013.6,0.5],[2013.63,0.2],[2013.72,0.2],[2013.76,0.45],[2013.8,0.25],[2013.88,0.35],[2013.92,0.1],[2014.0,0.2],[2014.05,0.4],[2014.1,0.55],[2014.18,0.55],[2014.22,0.35],[2014.32,0.0],[2014.35,-0.3],[2014.55,-0.75],[2014.65,-0.1],[2014.7,0.2],[2014.75,0.3],[2014.8,0.15],[2014.9,0.4],[2015.0,0.25],[2015.05,0.35],[2015.1,0.45],[2015.15,0.7],[2015.22,0.78],[2015.55,-0.65],[2015.58,-0.35],[2015.6,-0.15],[2015.68,-0.25],[2015.72,-0.15],[2015.78,-0.05],[2015.82,0.1],[2015.85,0.05],[2015.9,0.15],[2016.0,0.2],[2016.06,0.4],[2016.1,0.5],[2016.12,0.75],[2016.18,0.7],[2016.27,0.55],[2016.3,0.25],[2016.7,0.6],[2016.8,0.75],[2016.85,0.72]];
var smoothJason3More = [[2016.75,0.65],[2016.8,0.55],[2016.9,0.55],[2016.88,0.45],[2016.98,0.55],[2017.02,0.45],[2017.05,0.75],[2017.08,0.6],[2017.1,0.45],[2017.15,0.6],[2017.18,0.5],[2017.25,0.3],[2017.38,-0.25],[2017.4,-0.45],[2017.45,-0.55],[2017.7,0.85],[2017.8,0.55],[2017.85,0.3],[2017.9,0.25],[2017.95,0.4],[2018.03,0.35],[2018.05,0.15],[2018.1,0.45],[2018.15,0.55],[2018.18,0.3],[2018.25,0.15],[2018.45,-0.7],[2018.5,-0.95],[2018.55,-0.85],[2018.58,-0.6],[2018.6,-0.35],[2018.7,-0.1],[2018.82,0.15],[2018.85,0.25],[2018.95,0.35],[2019.0,0.4],[2019.08,0.6],[2019.1,0.7],[2019.2,0.6],[2019.25,0.3],[2019.38,-0.3],[2019.4,-0.5],[2019.64,0.9],[2019.75,0.7],[2019.78,0.45],[2019.88,0.35],[2019.93,0.15],[2019.95,0.3],[2020.05,0.15],[2020.1,0.0],[2020.13,0.25],[2020.2,0.05],[2020.36,-0.75],[2020.47,-1.0],[2020.5,-1.12],[2020.56,-0.85],[2020.74,0.6],[2020.78,0.68],[2020.82,0.72],[2020.92,0.85],[2020.96,0.72]];
var smoothS6More = [[2021.36,-0.45],[2021.42,-0.6],[2021.47,-0.75],[2021.52,-0.4],[2021.55,-0.55],[2021.6,-0.7],[2021.62,-0.35],[2021.7,-0.55],[2021.72,-0.35],[2021.78,-0.65],[2021.82,-0.75],[2021.86,-0.9],[2021.92,-0.8],[2021.98,-0.55],[2022.02,-0.45],[2022.08,-0.55],[2022.14,-0.4],[2022.18,-0.7],[2022.24,-0.8],[2022.4,-1.35],[2022.44,-1.6],[2022.48,-1.45],[2022.7,0.55],[2022.75,0.6],[2022.8,0.45],[2022.84,0.35],[2022.9,0.15],[2022.93,0.3],[2022.96,0.05],[2023.02,0.12],[2023.08,0.2],[2023.1,0.02],[2023.12,0.27],[2023.18,0.15],[2023.25,-0.75],[2023.3,-0.9],[2023.36,-0.4],[2023.4,-0.55],[2023.5,-0.75],[2023.58,-0.25],[2023.62,0.0],[2023.68,0.05],[2023.7,0.3],[2023.77,0.2],[2023.85,0.45],[2023.88,0.55],[2023.98,0.7],[2024.02,0.72],[2024.1,0.78],[2024.13,0.6],[2024.22,0.3],[2024.32,-0.3],[2024.35,-0.45],[2024.42,-0.7],[2024.5,-0.5],[2024.6,-0.1],[2024.65,-0.2],[2024.68,0.0],[2024.8,0.1],[2024.85,0.0],[2024.95,0.22],[2025.0,0.35],[2025.08,0.48],[2025.12,0.3]];

// tick labels
var topYearTicks = [1992,1994,1996,1998,2000,2002,2004,2006,2008,2010,2012,2014,2016,2018,2020,2022,2024,2026];
var recentYearTicks = [2023,2024,2025,2026];
var topHeightTicks = [2,0,-2,-4,-6], topHeightLabels = ['2.0','0.0','-2.0','-4.0','-6.0'];
var topMslTicks = [400,402,404,406], topMslLabels = ['400.0','402.0','404.0','406.0'];
var recentHeightTicks = [1,0.5,0,-0.5,-1,-1.5], recentHeightLabels = ['1.0','0.5','0.0','-0.5','-1.0','-1.5'];
var recentMslTicks = [403,403.5,404,404.5,405], recentMslLabels = ['403.0','403.5','404.0','404.5','405.0'];
var smoothHeightTicks = [1,0,-1,-2,-3,-4], smoothHeightLabels = ['1.0','0.0','-1.0','-2.0','-3.0','-4.0'];
var smoothMslTicks = [401,402,403,404,405], smoothMslLabels = ['401.0','402.0','403.0','404.0','405.0'];

var font = 'Liberation Serif';
var W = 2605, H = 2351;
var data = [];

function years(more) { return more.map(function (p) { return p[0]; }); }
function heights(more) { return more.map(function (p) { return p[1]; }); }

function openCircles(x, y, more, color) {
    data.push({x: x.concat(years(more)), y: y.concat(heights(more)), mode: 'markers', type: 'scatter', cliponaxis: false, showlegend: false,
        marker: {symbol: 'circle-open', size: 17, color: color, line: {color: color, width: 4.5}},
        error_y: {type: 'constant', value: 0.14, color: color, thickness: 2, width: 0}});
}
function filledCircles(x, y, color) {
    data.push({x: x, y: y, mode: 'markers', type: 'scatter', cliponaxis: false, showlegend: false,
        marker: {symbol: 'circle', size: 22, color: color}});
}
function stars(x, y, more, color) {
    data.push({x: x.concat(years(more)), y: y.concat(heights(more)), xaxis: 'x3', yaxis: 'y5', mode: 'markers', type: 'scatter', cliponaxis: false, showlegend: false,
        marker: {symbol: 'asterisk-open', size: 26, color: color, line: {color: color, width: 4.5}}});
}

data.push({x: whiskerX, y: whiskerY, mode: 'markers', type: 'scatter', showlegend: false,
    marker: {size: 1, color: blue},
    error_y: {type: 'data', array: whiskerErr, color: blue, thickness: 2, width: 0}});

filledCircles(topexFilledX, topexFilledY, blue);
openCircles(topexX, topexY, topexMore, blue);
filledCircles(jason1FilledX, jason1FilledY, teal);
openCircles(jason1X, jason1Y, [], teal);
filledCircles(ostmFilledX, ostmFilledY, purple);
openCircles(ostmX, ostmY, ostmMore, purple);
filledCircles(jason3FilledX, jason3FilledY, green);
openCircles(jason3X, jason3Y, jason3More, green);
filledCircles(s6FilledX, s6FilledY, steel);
var s6X = s6EarlyX.concat(recentYear.filter(function (v) { return v !== null; }));
var s6Y = s6EarlyY.concat(recentHeight.filter(function (v) { return v !== null; }));
openCircles(s6X, s6Y, s6More, steel);

data.push({x: recentYear, y: recentHeight, xaxis: 'x2', yaxis: 'y3', mode: 'lines+markers', type: 'scatter', showlegend: false,
    connectgaps: false, line: {color: steel, width: 5}, marker: {color: steel, size: 13}});

stars(smoothTopexX, smoothTopexY, smoothTopexMore, blue);
stars(smoothJason1X, smoothJason1Y, [], teal);
stars(smoothOstmX, smoothOstmY, smoothOstmMore, purple);
stars(smoothJason3X, smoothJason3Y, smoothJason3More, green);
stars(smoothS6X, smoothS6Y, smoothS6More, steel);

// the right hand axes carry no marks of their own, an empty trace makes plotly draw them
[['x', 'y2'], ['x2', 'y4'], ['x3', 'y6']].forEach(function (p) {
    data.push({x: [null], y: [null], xaxis: p[0], yaxis: p[1], mode: 'markers', type: 'scatter', showlegend: false});
});

function xAxis(anchor, left, range, tickvals, minor, minorLen) {
    return {anchor: anchor, domain: [left / W, 2406 / W], range: range, showgrid: false, zeroline: false,
        showline: true, linecolor: '#000', linewidth: 4, mirror: 'allticks', ticks: 'inside', ticklen: 18, tickwidth: 4, tickcolor: '#000',
        tickmode: 'array', tickvals: tickvals, ticktext: tickvals.map(String), ticklabelstandoff: -13,
        tickfont: {family: font, size: 48, color: '#000'},
        minor: {ticks: 'inside', dtick: minor, tick0: range[0], ticklen: minorLen, tickwidth: 3, tickcolor: '#000', showgrid: false}};
}
function yAxis(top, bottom, range, tickvals, ticktext, minor, title, side, overlay, anchor, standoff) {
    var a = {anchor: anchor, domain: [1 - bottom / H, 1 - top / H], range: range, side: side, showgrid: false, zeroline: false,
        showline: true, linecolor: '#000', linewidth: 4, ticks: 'inside', ticklen: 24, tickwidth: 4, tickcolor: '#000',
        tickmode: 'array', tickvals: tickvals, ticktext: ticktext, ticklabelstandoff: side === 'left' ? 10 : 13,
        tickfont: {family: font, size: 48, color: '#000'},
        minor: {ticks: 'inside', dtick: minor, tick0: tickvals[0], ticklen: 12, tickwidth: 3, tickcolor: '#000', showgrid: false},
        title: {text: title, standoff: standoff, font: {family: font, size: 49, color: '#000'}}};
    if (overlay) a.overlaying = overlay;
    return a;
}

var rows = [
    ['*** ', 'TOPEX/Poseidon GDR 10Hz altimetry', blue, 2037],
    ['*** ', 'Jason-1 GDR 20Hz altimetry', teal, 2108],
    ['*** ', 'OSTM/Jason-2 GDR 20Hz altimetry (ice retracker)', purple, 2180],
    ['*** ', 'Jason-3 Interim GDR 20Hz altimetry (ice retracker)', green, 2251],
    ['*** ', 'Sentinel-6 LR NTC+STC 20Hz altimetry (ice retracker)', steel, 2323]
];
var notes = [
    ['ID 000438', 2108],
    ['Version TPJOJS.2.5', 2180],
    ['J-2 Ref Pass 202 Cycle 269', 2251],
    ['Last valid elevation: 31 Dec 2024', 2323]
];
var annotations = [];
rows.forEach(function (r) {
    annotations.push({xref: 'paper', yref: 'paper', x: 26 / W, y: 1 - r[3] / H, xanchor: 'left', yanchor: 'middle', showarrow: false,
        text: r[0] + r[1], font: {family: font, size: 48, color: r[2]}});
});
notes.forEach(function (r) {
    annotations.push({xref: 'paper', yref: 'paper', x: 2406 / W, y: 1 - r[1] / H, xanchor: 'right', yanchor: 'middle', showarrow: false,
        text: r[0], font: {family: font, size: 48, color: '#000'}});
});
annotations.push({xref: 'paper', yref: 'paper', x: 166 / W, y: 1 - 909 / H, xanchor: 'left', yanchor: 'middle', showarrow: false,
    text: 'Height variation in the most recent 3 years', font: {family: font, size: 48, color: '#000'}});
annotations.push({xref: 'paper', yref: 'paper', x: 166 / W, y: 1 - 981 / H, xanchor: 'left', yanchor: 'middle', showarrow: false,
    text: '(Sentinel-6A)', font: {family: font, size: 48, color: '#000'}});

var layout = {
    width: W, height: H, margin: {l: 0, r: 0, t: 0, b: 0, pad: 0}, paper_bgcolor: '#fff', plot_bgcolor: '#fff', showlegend: false,
    title: {text: 'Lake Gouin', x: 1287 / W, y: 1 - 35 / H, xanchor: 'center', yanchor: 'middle', font: {family: font, size: 96, color: '#000'}},
    annotations: annotations,
    xaxis: xAxis('y', 166.5, [1992, 2026], topYearTicks, 1, 9),
    yaxis: yAxis(85, 612, [-6, 2], topHeightTicks, topHeightLabels, 0.4, 'Height Variation (m)', 'left', null, 'x', 38),
    yaxis2: yAxis(85, 612, [398.22, 406.22], topMslTicks, topMslLabels, 0.4, 'Height Variation (m MSL)', 'right', 'y', 'x', 19),
    xaxis2: xAxis('y3', 1289, [2023, 2026], recentYearTicks, 1 / 12, 9),
    yaxis3: yAxis(731, 1259, [-1.5, 1], recentHeightTicks, recentHeightLabels, 0.1, 'Height Variation (m)', 'left', null, 'x2', 22),
    yaxis4: yAxis(731, 1259, [402.72, 405.22], recentMslTicks, recentMslLabels, 0.1, 'Height Variation (m MSL)', 'right', 'y3', 'x2', 19),
    xaxis3: xAxis('y5', 166.5, [1992, 2026], topYearTicks, 1, 9),
    yaxis5: yAxis(1356, 1884, [-4.124, 1.12], smoothHeightTicks, smoothHeightLabels, 0.2, 'Smoothed Height Variation (m)', 'left', null, 'x3', 38),
    yaxis6: yAxis(1356, 1884, [400.1, 405.337], smoothMslTicks, smoothMslLabels, 0.2, 'Height Variation (m MSL)', 'right', 'y5', 'x3', 19)
};

Plotly.newPlot('chart', data, layout, {displayModeBar: false, staticPlot: true});
</script>
</body>
</html>
